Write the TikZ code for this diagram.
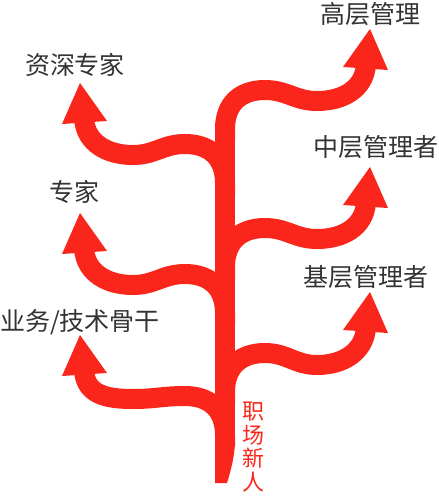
\documentclass[tikz,border=0pt]{standalone}
\usepackage{fontspec}
\setmainfont{Noto Sans CJK SC}
\usepackage{tikz}
\definecolor{treered}{RGB}{250,38,28}
\definecolor{labelgray}{RGB}{51,51,51}

\begin{document}
\begin{tikzpicture}[x=1pt, y=-1pt,
    stem/.style={draw=treered, line width=20pt},
    tiphead/.style={fill=treered},
    lbl/.style={text=labelgray, font=\fontsize{25}{30}\selectfont, inner sep=0pt}]
    \useasboundingbox (0,0) rectangle (439,496);

    % Trunk
    \draw[stem] (225,442) -- (225,129);
    \fill[treered] (215,440) -- (215,483) -- (227,483) .. controls (231,470) and (235,455) .. (235,440) -- cycle;

    % Branches: tip height / side / dip
    \foreach \tip/\side/\dip in {29/1/72, 167/1/72, 292/1/73, 83/-1/72, 213/-1/72, 335/-1/64} {
      \begin{scope}[shift={(225,\tip)}, xscale=\side]
        \draw[stem] (0,112) -- (0,100) .. controls (0,75) and (15,61) .. (40,61)
          .. controls (62,61) and (70,\dip) .. (92,\dip)
          .. controls (118,\dip) and (139,60) .. (141,36);
        \fill[tiphead] (145,0) -- (118,38) -- (163,41) -- cycle;
      \end{scope}
    }

    % Labels
    \node[lbl] (topmgr) at (370,14) {高层管理};
    \node[lbl] (midmgr) at (376,147) {中层管理者};
    \node[lbl] (basemgr) at (366,277) {基层管理者};
    \node[lbl] (senior) at (75,65) {资深专家};
    \node[lbl] (expert) at (74,192) {专家};
    \node[lbl] (backbone) at (80,322) {业务/技术骨干};
    \node[text=treered, font=\fontsize{22}{23.5}\selectfont, align=center, inner sep=0pt] (newcomer) at (253,447) {职\\场\\新\\人};

\end{tikzpicture}
\end{document}
